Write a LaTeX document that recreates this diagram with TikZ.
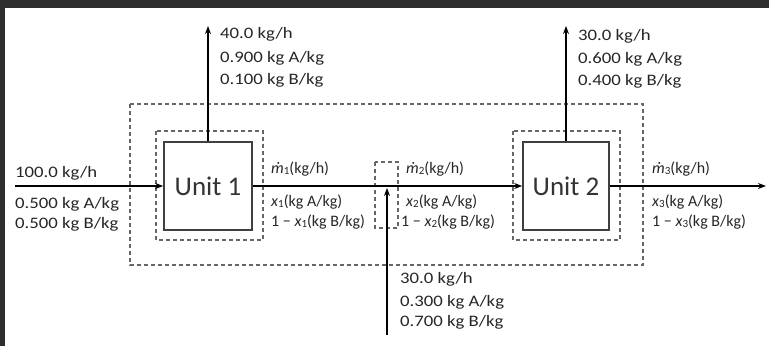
\documentclass[tikz,border=0pt]{standalone}
\usepackage{fontspec}
\setmainfont{Carlito}
\newfontfamily\numfont[FakeStretch=1.17]{Carlito}
\usetikzlibrary{arrows.meta}
\newcommand{\sub}[1]{\raisebox{-0.25ex}{\fontsize{11}{12}\selectfont #1}}
\begin{document}
\begin{tikzpicture}[x=1pt,y=-1pt,
  lab/.style={font=\fontsize{16}{20}\selectfont, anchor=base west, inner sep=0pt, text=black!85},
  numlab/.style={font=\numfont\fontsize{16}{20}\selectfont, anchor=base west, inner sep=0pt, text=black!85},
  unitbox/.style={draw=black!75, line width=1.6pt, minimum height=88pt, inner sep=0pt,
                  font=\fontsize{27}{30}\selectfont, text=black!80},
  bound/.style={draw=black!60, line width=1.5pt, dash pattern=on 4pt off 3pt},
  flow/.style={draw=black, line width=1.8pt, -{Stealth[length=8pt,width=6pt]}}]
\useasboundingbox (0,0) rectangle (769,346);
\fill[white] (0,0) rectangle (769,346);
\fill[black!82] (0,0) rectangle (769,8);
\fill[black!82] (0,0) rectangle (5,346);

% boundaries
\draw[bound] (130,104) rectangle (643,265);
\draw[bound] (156,131) rectangle (263,240);
\draw[bound] (513,131) rectangle (620,240);
\draw[bound] (375,162) rectangle (398,228);

% units
\node[unitbox, minimum width=88pt] (u1) at (208,186) {Unit 1};
\node[unitbox, minimum width=86pt] (u2) at (566,186) {Unit 2};

% free ends
\coordinate (feed) at (15,186);
\coordinate (top1) at (208,26);
\coordinate (top2) at (566,26);
\coordinate (prod) at (766,186);
\coordinate (bot) at (387,335);
\coordinate (mix) at (387,188);

\draw[flow] (feed) -- (u1.west);
\draw[flow] (u1.east) -- (u2.west);
\draw[flow] (u2.east) -- (prod);
\draw[flow] (u1.north) -- (top1);
\draw[flow] (u2.north) -- (top2);
\draw[flow] (bot) -- (mix);

% feed labels
\node[numlab] (f1) at (15,177) {100.0 kg/h};
\node[numlab] (f2) at (15,208) {0.500 kg A/kg};
\node[numlab] (f3) at (15,228) {0.500 kg B/kg};

% top 1
\node[numlab] (t1a) at (220,38) {40.0 kg/h};
\node[numlab] (t1b) at (220,62) {0.900 kg A/kg};
\node[numlab] (t1c) at (220,84) {0.100 kg B/kg};

% top 2
\node[numlab] (t2a) at (578,40) {30.0 kg/h};
\node[numlab] (t2b) at (578,63) {0.600 kg A/kg};
\node[numlab] (t2c) at (578,85) {0.400 kg B/kg};

% bottom
\node[numlab] (b1) at (400,283) {30.0 kg/h};
\node[numlab] (b2) at (400,306) {0.300 kg A/kg};
\node[numlab] (b3) at (400,326) {0.700 kg B/kg};

% stream 1
\node[lab] (s1a) at (271,173) {\textit{ṁ}\sub{1}(kg/h)};
\node[lab] (s1b) at (271,206) {\textit{x}\sub{1}(kg A/kg)};
\node[lab] (s1c) at (271,226) {1 − \textit{x}\sub{1}(kg B/kg)};

% stream 2
\node[lab] (s2a) at (406,173) {\textit{ṁ}\sub{2}(kg/h)};
\node[lab] (s2b) at (406,206) {\textit{x}\sub{2}(kg A/kg)};
\node[lab] (s2c) at (401,226) {1 − \textit{x}\sub{2}(kg B/kg)};

% stream 3
\node[lab] (s3a) at (652,173) {\textit{ṁ}\sub{3}(kg/h)};
\node[lab] (s3b) at (652,206) {\textit{x}\sub{3}(kg A/kg)};
\node[lab] (s3c) at (652,226) {1 − \textit{x}\sub{3}(kg B/kg)};
\end{tikzpicture}
\end{document}
